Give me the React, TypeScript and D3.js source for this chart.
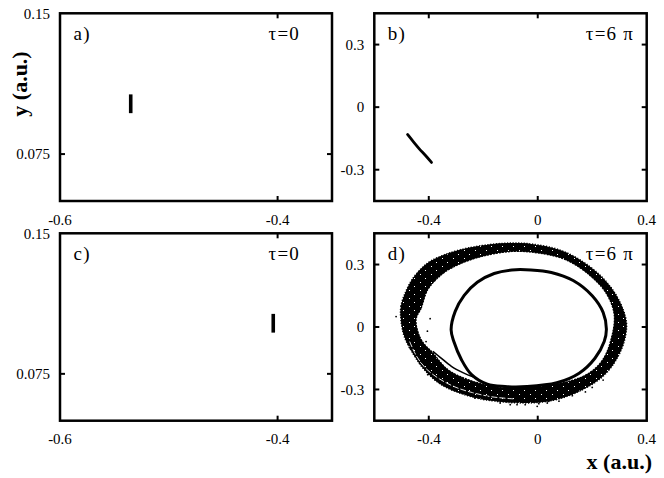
import React from 'react';
import * as d3 from 'd3';

const W = 664;
const H = 478;

// ---- data (a.u.) ----
// panel a: initial distribution (tau = 0)
const aX = [-0.535, -0.535];
const aY = [0.0968, 0.1068];
// panel c: initial distribution (tau = 0)
const cX = [-0.404, -0.404];
const cY = [0.097, 0.107];
// panel b: distribution at tau = 6 pi
const bX = [-0.478, -0.457, -0.434, -0.412, -0.39];
const bY = [-0.131, -0.165, -0.201, -0.232, -0.265];
// panel d: outer edge of the filamented band
const dOuterX = [-0.502, -0.502, -0.484, -0.453, -0.404, -0.342, -0.268, -0.181, -0.095, -0.021, 0.078, 0.164, 0.239, 0.294, 0.325, 0.319, 0.288, 0.239, 0.164, 0.066, -0.046, -0.194, -0.268, -0.354, -0.416, -0.459, -0.49];
const dOuterY = [0.035, 0.099, 0.171, 0.243, 0.307, 0.347, 0.376, 0.395, 0.403, 0.398, 0.371, 0.315, 0.235, 0.139, 0.027, -0.061, -0.157, -0.237, -0.301, -0.349, -0.365, -0.349, -0.325, -0.277, -0.205, -0.125, -0.045];
// panel d: inner edge of the band
const dInnerX = [-0.447, -0.428, -0.404, -0.354, -0.293, -0.206, -0.095, 0.004, 0.103, 0.189, 0.251, 0.281, 0.269, 0.239, 0.189, 0.115, 0.004, -0.12, -0.169, -0.256, -0.33, -0.385, -0.428];
const dInnerY = [0.035, 0.091, 0.179, 0.251, 0.299, 0.339, 0.363, 0.355, 0.323, 0.251, 0.163, 0.059, -0.061, -0.157, -0.221, -0.261, -0.285, -0.293, -0.285, -0.253, -0.205, -0.125, -0.061];
// panel d: white gap between strands inside the band (bottom-left)
const dGapX = [-0.47, -0.445, -0.41, -0.36, -0.3, -0.24, -0.17, -0.09];
const dGapY = [-0.07, -0.14, -0.2, -0.25, -0.29, -0.315, -0.335, -0.345];
// panel d: inner loop
const dLoopX = [-0.318, -0.303, -0.27, -0.222, -0.16, -0.095, -0.025, 0.05, 0.13, 0.2, 0.24, 0.252, 0.244, 0.21, 0.152, 0.07, -0.04, -0.12, -0.185, -0.243, -0.28, -0.308];
const dLoopY = [-0.013, 0.075, 0.152, 0.215, 0.257, 0.274, 0.274, 0.262, 0.223, 0.15, 0.07, -0.01, -0.07, -0.15, -0.222, -0.268, -0.286, -0.286, -0.275, -0.229, -0.157, -0.07];
// panel d: filament
const dFilX = [-0.385, -0.357, -0.317, -0.275, -0.231];
const dFilY = [-0.117, -0.147, -0.189, -0.219, -0.243];
// panel d: stray points
const dDotX = [-0.456, -0.434, -0.404, -0.373, -0.336, -0.299, -0.256, -0.231, -0.138, -0.101, -0.046, 0.004, 0.041, 0.078, 0.127, 0.175, -0.076, -0.002, -0.237, -0.187, 0.035, -0.405, -0.395, -0.41, -0.47, -0.52, 0.2, 0.24];
const dDotY = [-0.125, -0.173, -0.229, -0.253, -0.277, -0.304, -0.32, -0.341, -0.365, -0.373, -0.373, -0.368, -0.357, -0.356, -0.33, -0.312, -0.373, -0.381, -0.309, -0.333, -0.365, -0.02, 0.04, -0.07, -0.1, 0.05, -0.29, -0.255];

// ---- ticks ----
const leftXTicks = [-0.6, -0.4];
const leftXLabels = ['-0.6', '-0.4'];
const leftYTicks = [0.15, 0.075];
const leftYLabels = ['0.15', '0.075'];
const rightXTicks = [-0.4, 0, 0.4];
const rightXLabels = ['-0.4', '0', '0.4'];
const rightYTicks = [0.3, 0, -0.3];
const rightYLabels = ['0.3', '0', '-0.3'];

const FONT = '"Liberation Serif", "DejaVu Serif", serif';

type PanelProps = {
  x0: number; x1: number; y0: number; y1: number;
  xd: [number, number]; yd: [number, number];
  xt: number[]; xtl: string[]; yt: number[]; ytl: string[];
  label: string; tau: string; tauX: number;
  render: (x: d3.ScaleLinear<number, number>, y: d3.ScaleLinear<number, number>) => React.ReactNode;
};

function Panel(p: PanelProps) {
  const x = d3.scaleLinear().domain(p.xd).range([p.x0, p.x1]);
  const y = d3.scaleLinear().domain(p.yd).range([p.y1, p.y0]);
  const tl = 5;
  return (
    <g>
      {p.render(x, y)}
      {p.xt.map((t, i) => {
        const px = x(t);
        const inner = px > p.x0 + 2 && px < p.x1 - 2;
        return (
          <g key={'x' + i}>
            {inner && <line x1={px} x2={px} y1={p.y1} y2={p.y1 - tl} stroke="#000" strokeWidth={2} />}
            {inner && <line x1={px} x2={px} y1={p.y0} y2={p.y0 + tl} stroke="#000" strokeWidth={2} />}
            <text x={px} y={p.y1 + 23.5} textAnchor="middle" fontSize={15} fontFamily={FONT}>{p.xtl[i]}</text>
          </g>
        );
      })}
      {p.yt.map((t, i) => {
        const py = y(t);
        const inner = py > p.y0 + 2 && py < p.y1 - 2;
        return (
          <g key={'y' + i}>
            {inner && <line x1={p.x0} x2={p.x0 + tl} y1={py} y2={py} stroke="#000" strokeWidth={2} />}
            {inner && <line x1={p.x1} x2={p.x1 - tl} y1={py} y2={py} stroke="#000" strokeWidth={2} />}
            <text x={p.x0 - 10} y={py} dy="0.35em" textAnchor="end" fontSize={15} fontFamily={FONT}>{p.ytl[i]}</text>
          </g>
        );
      })}
      <rect x={p.x0} y={p.y0} width={p.x1 - p.x0} height={p.y1 - p.y0} fill="none" stroke="#000" strokeWidth={2.5} />
      <text x={p.x0 + 13.5} y={p.y0 + 27} fontSize={19} letterSpacing={1.2} fontFamily={FONT}>{p.label}</text>
      <text x={p.tauX} y={p.y0 + 27} textAnchor="end" fontSize={19} letterSpacing={1.2} fontFamily={FONT}>{p.tau}</text>
    </g>
  );
}

function pts(xs: number[], ys: number[]): [number, number][] {
  return xs.map((v, i) => [v, ys[i]] as [number, number]);
}

export default function App() {
  const L = { x0: 60, x1: 332 };
  const R = { x0: 374.3, x1: 646.7 };
  const T = { y0: 13.3, y1: 201 };
  const B = { y0: 233.3, y1: 420.7 };

  const bar = (xs: number[], ys: number[]) => (x: any, y: any) => (
    <line x1={x(xs[0])} x2={x(xs[1])} y1={y(ys[0])} y2={y(ys[1])} stroke="#000" strokeWidth={3.6} />
  );

  const renderB = (x: any, y: any) => {
    const line = d3.line<[number, number]>().x(d => x(d[0])).y(d => y(d[1])).curve(d3.curveCatmullRom);
    return <path d={line(pts(bX, bY)) || ''} fill="none" stroke="#000" strokeWidth={2.8} strokeLinecap="round" />;
  };

  const renderD = (x: any, y: any) => {
    const closed = d3.line<[number, number]>().x(d => x(d[0])).y(d => y(d[1])).curve(d3.curveCatmullRomClosed);
    const open = d3.line<[number, number]>().x(d => x(d[0])).y(d => y(d[1])).curve(d3.curveCatmullRom);
    const outer = closed(pts(dOuterX, dOuterY)) || '';
    const inner = closed(pts(dInnerX, dInnerY)) || '';
    return (
      <g>
        <path d={outer + inner} fill="#000" fillRule="evenodd" stroke="none" />
        <path d={outer + inner} fill="url(#speck)" fillRule="evenodd" stroke="none" />
        <path d={outer} fill="none" stroke="#000" strokeWidth={1.6} strokeDasharray="1.2 1.6" />
        <path d={inner} fill="none" stroke="#000" strokeWidth={1.4} strokeDasharray="2 1" />
        <path d={open(pts(dGapX, dGapY)) || ''} fill="none" stroke="#fff" strokeWidth={0.9} strokeDasharray="6 2" />
        <path d={closed(pts(dLoopX, dLoopY)) || ''} fill="none" stroke="#000" strokeWidth={3} />
        <path d={open(pts(dFilX, dFilY)) || ''} fill="none" stroke="#000" strokeWidth={1.6} />
        {dDotX.map((v, i) => (
          <circle key={i} cx={x(v)} cy={y(dDotY[i])} r={0.9} fill="#000" />
        ))}
      </g>
    );
  };

  return (
    <svg width={W} height={H} style={{ position: 'absolute', left: 0, top: 0, background: '#fff' }}>
      <defs>
        <pattern id="speck" width={11} height={8} patternUnits="userSpaceOnUse">
          <rect width={11} height={8} fill="#000" shapeRendering="crispEdges" />
          <rect x={2} y={2} width={1} height={1} fill="#fff" shapeRendering="crispEdges" />
          <rect x={7} y={6} width={1} height={1} fill="#fff" shapeRendering="crispEdges" />
        </pattern>
      </defs>
      <rect width={W} height={H} fill="#fff" />
      <Panel {...L} {...T} xd={[-0.6, -0.35]} yd={[0.05, 0.15]} xt={leftXTicks} xtl={leftXLabels} yt={leftYTicks} ytl={leftYLabels}
        label="a)" tau="τ=0" tauX={300} render={bar(aX, aY)} />
      <Panel {...R} {...T} xd={[-0.6, 0.4]} yd={[-0.45, 0.45]} xt={rightXTicks} xtl={rightXLabels} yt={rightYTicks} ytl={rightYLabels}
        label="b)" tau="τ=6 π" tauX={634} render={renderB} />
      <Panel {...L} {...B} xd={[-0.6, -0.35]} yd={[0.05, 0.15]} xt={leftXTicks} xtl={leftXLabels} yt={leftYTicks} ytl={leftYLabels}
        label="c)" tau="τ=0" tauX={300} render={bar(cX, cY)} />
      <Panel {...R} {...B} xd={[-0.6, 0.4]} yd={[-0.45, 0.45]} xt={rightXTicks} xtl={rightXLabels} yt={rightYTicks} ytl={rightYLabels}
        label="d)" tau="τ=6 π" tauX={634} render={renderD} />
      <text transform="translate(27,84) rotate(-90)" textAnchor="middle" fontSize={22} fontWeight="bold" fontFamily={FONT}>y (a.u.)</text>
      <text x={652} y={469} textAnchor="end" fontSize={22} fontWeight="bold" fontFamily={FONT}>x (a.u.)</text>
    </svg>
  );
}
